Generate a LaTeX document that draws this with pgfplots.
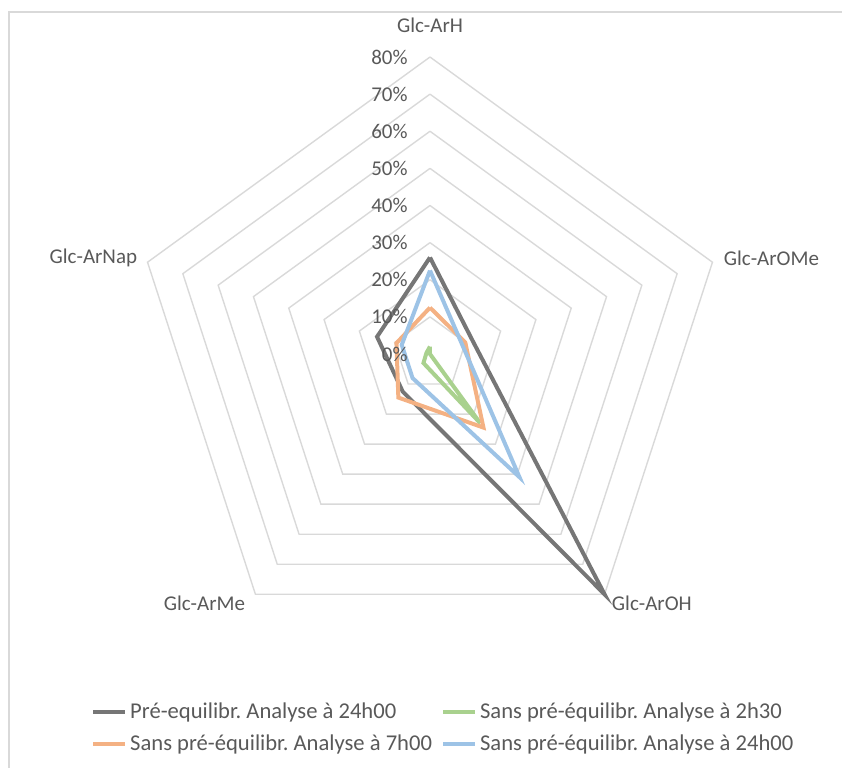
\documentclass[border=0pt]{standalone}
\usepackage{pgfplots}
\pgfplotsset{compat=1.18}
\usepgfplotslibrary{polar}
\usetikzlibrary{calc}
\usepackage{fontspec}
\setmainfont{Carlito}

\definecolor{txt}{RGB}{89,89,89}
\definecolor{gridc}{RGB}{217,217,217}
\definecolor{cgray}{RGB}{118,118,118}
\definecolor{cgreen}{RGB}{169,209,142}
\definecolor{corange}{RGB}{244,177,131}
\definecolor{cblue}{RGB}{157,195,230}

% angle: ArH 90, ArOMe 18, ArOH 306, ArMe 234, ArNap 162
\pgfplotstableread{
ang val
90  26
18  12
306 80
234 12.5
162 15
90  26
}\preeq
\pgfplotstableread{
ang val
90  2
18  0
306 23
234 3
162 1
90  2
}\sansA
\pgfplotstableread{
ang val
90  12.5
18  10
306 24.5
234 14.5
162 9.5
90  12.5
}\sansB
\pgfplotstableread{
ang val
90  22.5
18  9
306 41
234 8
162 8
90  22.5
}\sansC

\begin{document}
\frenchspacing
\fontsize{10.5}{12.6}\selectfont
\begin{tikzpicture}
\begin{polaraxis}[
  hide axis,
  scale only axis,
  width=297pt,
  xmin=0, xmax=360,
  ymin=0, ymax=80,
  clip=false,
  legend columns=2,
  legend cell align=left,
  legend style={draw=none, fill=none, at={(axis description cs:-0.071,-0.08)}, anchor=north west,
    font=\fontsize{11.3}{13.3}\selectfont\color{txt},
    inner sep=0pt, row sep=2.5pt,
    /tikz/every even column/.append style={column sep=3pt},
    nodes={inner xsep=1.5pt, inner ysep=2pt}},
  legend image code/.code={\draw[#1, line width=2pt] (0pt,0pt) -- (16pt,0pt);},
]
\pgfplotsinvokeforeach{10,20,...,80}{
  \addplot[gridc, line width=0.7pt, forget plot] coordinates {(90,#1) (18,#1) (306,#1) (234,#1) (162,#1) (90,#1)};
}
\addplot[cgray, line width=2pt] table[x=ang, y=val] {\preeq};
\addlegendentry{Pré-equilibr. Analyse à 24h00}
\addplot[cgreen, line width=2pt] table[x=ang, y=val] {\sansA};
\addlegendentry{Sans pré-équilibr. Analyse à 2h30}
\addplot[corange, line width=2pt] table[x=ang, y=val] {\sansB};
\addlegendentry{Sans pré-équilibr. Analyse à 7h00}
\addplot[cblue, line width=2pt] table[x=ang, y=val] {\sansC};
\addlegendentry{Sans pré-équilibr. Analyse à 24h00}

\pgfplotsinvokeforeach{0,10,...,80}{
  \node[anchor=east, text=txt, inner sep=0pt, xshift=-11pt] at (axis cs:90,#1) {#1\%};
}
\node[anchor=south, text=txt, inner sep=0pt, yshift=12pt] at (axis cs:90,80) {Glc-ArH};
\node[anchor=west, text=txt, inner sep=0pt, xshift=5.5pt, yshift=2pt] at (axis cs:18,80) {Glc-ArOMe};
\node[anchor=east, text=txt, inner sep=0pt, xshift=-5pt, yshift=2pt] at (axis cs:162,80) {Glc-ArNap};
\node[anchor=north west, text=txt, inner sep=0pt, xshift=3.5pt, yshift=-0.5pt] at (axis cs:306,80) {Glc-ArOH};
\node[anchor=north east, text=txt, inner sep=0pt, xshift=-5pt, yshift=-0.5pt] at (axis cs:234,80) {Glc-ArMe};
\coordinate (C) at (axis cs:0,0);
\end{polaraxis}
\draw[gridc, line width=0.8pt] ($(C)+(-210.5pt,-210pt)$) -- ($(C)+(-210.5pt,171pt)$) -- ($(C)+(210pt,171pt)$);
\pgfresetboundingbox
\path ($(C)+(-215pt,-206.5pt)$) rectangle ($(C)+(206pt,177pt)$);
\end{tikzpicture}
\end{document}
